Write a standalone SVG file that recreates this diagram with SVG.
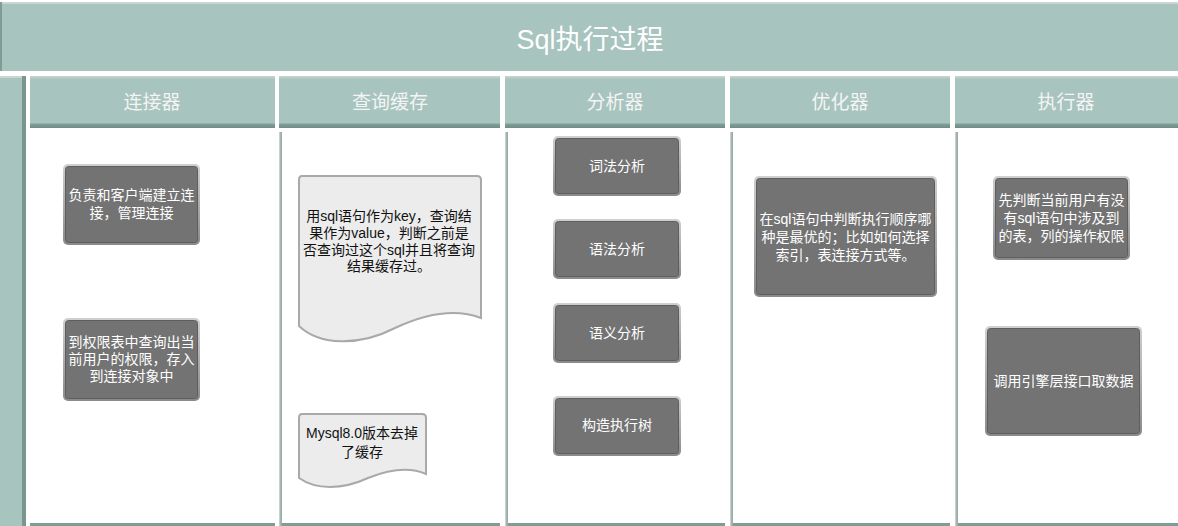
<svg xmlns="http://www.w3.org/2000/svg" width="1178" height="526" viewBox="0 0 1178 526">
<defs>
<linearGradient id="hdr" x1="0" y1="0" x2="0" y2="1">
<stop offset="0" stop-color="#c9d8d4"/>
<stop offset="0.06" stop-color="#a8c4be"/>
<stop offset="0.9" stop-color="#a8c4be"/>
<stop offset="0.93" stop-color="#7f9c95"/>
<stop offset="1" stop-color="#6f8d86"/>
</linearGradient>
<linearGradient id="sep" x1="0" y1="0" x2="1" y2="0">
<stop offset="0" stop-color="#d6dcda"/>
<stop offset="0.5" stop-color="#a9b7b3"/>
<stop offset="1" stop-color="#8ea8a2"/>
</linearGradient>
<linearGradient id="nodeBorder" x1="0" y1="0" x2="0" y2="1">
<stop offset="0" stop-color="#d0d0d0"/>
<stop offset="1" stop-color="#8a8a8a"/>
</linearGradient>
</defs>
<style>
.ttl{font-family:"Liberation Sans","Noto Sans CJK SC",sans-serif;font-size:27px;fill:#ffffff;text-anchor:middle}
.hd{font-family:"Liberation Sans","Noto Sans CJK SC",sans-serif;font-size:19px;fill:#f4f4f4;text-anchor:middle}
.nt{font-family:"Liberation Sans","Noto Sans CJK SC",sans-serif;font-size:14px;fill:#ffffff;text-anchor:middle}
.dt{font-family:"Liberation Sans","Noto Sans CJK SC",sans-serif;font-size:14px;fill:#111111;text-anchor:middle}
.nb{fill:url(#nodeBorder)}
.nf{fill:#737373;stroke:#5e5e5e;stroke-width:1}
.doc{fill:#ececec;stroke:#a9a9a9;stroke-width:2}
.hbar{fill:url(#hdr)}
.sepl{fill:url(#sep)}
.bot{fill:#7f9c95}
</style>
<rect width="1178" height="526" fill="#ffffff"/>
<g id="title">
<rect x="0" y="2" width="1178" height="69" fill="#a8c4be"/>
<rect x="0" y="2" width="1178" height="2" fill="#c9d6d3"/>
<rect x="0" y="2" width="2" height="69" fill="#7f9c95"/>
<text class="ttl" x="590" y="49">Sql执行过程</text>
</g>
<g id="leftbar">
<rect x="0" y="76" width="25" height="450" fill="#a8c4be"/>
<rect x="0" y="76" width="25" height="2" fill="#c9d6d3"/>
<rect x="22" y="76" width="4" height="450" fill="#7a978f"/>
</g>
<g id="lane-connector">
<rect class="hbar" x="30" y="76" width="245" height="52"/>
<text class="hd" x="152" y="109">连接器</text>
<rect class="bot" x="30" y="523" width="245" height="3"/>
</g>
<g id="lane-cache">
<rect class="hbar" x="279" y="76" width="221" height="52"/>
<text class="hd" x="390" y="109">查询缓存</text>
<rect class="sepl" x="279" y="132" width="3" height="394"/>
<rect class="bot" x="282" y="523" width="218" height="3"/>
</g>
<g id="lane-analyzer">
<rect class="hbar" x="505" y="76" width="220" height="52"/>
<text class="hd" x="615" y="109">分析器</text>
<rect class="sepl" x="505" y="132" width="3" height="394"/>
<rect class="bot" x="508" y="523" width="217" height="3"/>
</g>
<g id="lane-optimizer">
<rect class="hbar" x="730" y="76" width="220" height="52"/>
<text class="hd" x="840" y="109">优化器</text>
<rect class="sepl" x="730" y="132" width="3" height="394"/>
<rect class="bot" x="733" y="523" width="217" height="3"/>
</g>
<g id="lane-executor">
<rect class="hbar" x="955" y="76" width="223" height="52"/>
<text class="hd" x="1066" y="109">执行器</text>
<rect class="sepl" x="955" y="132" width="3" height="394"/>
<rect class="bot" x="958" y="523" width="220" height="3"/>
</g>
<g id="conn-1">
<rect class="nb" x="63" y="164" width="137" height="81" rx="5"/>
<rect class="nf" x="65.5" y="166.5" width="132" height="76" rx="3"/>
<text class="nt" x="131.5" y="200">负责和客户端建立连</text>
<text class="nt" x="131.5" y="218">接，管理连接</text>
</g>
<g id="conn-2">
<rect class="nb" x="63" y="318" width="137" height="83" rx="5"/>
<rect class="nf" x="65.5" y="320.5" width="132" height="78" rx="3"/>
<text class="nt" x="131.5" y="347">到权限表中查询出当</text>
<text class="nt" x="131.5" y="364">前用户的权限，存入</text>
<text class="nt" x="131.5" y="381">到连接对象中</text>
</g>
<g id="cache-1">
<path class="doc" d="M302,176 H477 Q481,176 481,180 V318 C455,308 425,314 395,328 C360,346 320,346 299,326 V180 Q299,176 302,176 Z"/>
<text class="dt" x="389" y="221">用sql语句作为key，查询结</text>
<text class="dt" x="389" y="238">果作为value，判断之前是</text>
<text class="dt" x="389" y="255">否查询过这个sql并且将查询</text>
<text class="dt" x="389" y="271">结果缓存过。</text>
</g>
<g id="cache-2">
<path class="doc" d="M302,414 H422 Q426,414 426,418 V474 C408,466 388,470 368,478 C342,490 316,490 299,478 V418 Q299,414 302,414 Z"/>
<text class="dt" x="362" y="438">Mysql8.0版本去掉</text>
<text class="dt" x="362" y="457">了缓存</text>
</g>
<g id="ana-1">
<rect class="nb" x="553" y="136" width="128" height="60" rx="5"/>
<rect class="nf" x="555.5" y="138.5" width="123" height="55" rx="3"/>
<text class="nt" x="617" y="171">词法分析</text>
</g>
<g id="ana-2">
<rect class="nb" x="553" y="219" width="128" height="60" rx="5"/>
<rect class="nf" x="555.5" y="221.5" width="123" height="55" rx="3"/>
<text class="nt" x="617" y="254">语法分析</text>
</g>
<g id="ana-3">
<rect class="nb" x="553" y="303" width="128" height="60" rx="5"/>
<rect class="nf" x="555.5" y="305.5" width="123" height="55" rx="3"/>
<text class="nt" x="617" y="338">语义分析</text>
</g>
<g id="ana-4">
<rect class="nb" x="553" y="396" width="128" height="60" rx="5"/>
<rect class="nf" x="555.5" y="398.5" width="123" height="55" rx="3"/>
<text class="nt" x="617" y="430">构造执行树</text>
</g>
<g id="opt-1">
<rect class="nb" x="754" y="176" width="183" height="121" rx="5"/>
<rect class="nf" x="756.5" y="178.5" width="178" height="116" rx="3"/>
<text class="nt" x="845.5" y="224">在sql语句中判断执行顺序哪</text>
<text class="nt" x="845.5" y="242">种是最优的；比如如何选择</text>
<text class="nt" x="845.5" y="260">索引，表连接方式等。</text>
</g>
<g id="exec-1">
<rect class="nb" x="993" y="176" width="137" height="84" rx="5"/>
<rect class="nf" x="995.5" y="178.5" width="132" height="79" rx="3"/>
<text class="nt" x="1061.5" y="205">先判断当前用户有没</text>
<text class="nt" x="1061.5" y="223">有sql语句中涉及到</text>
<text class="nt" x="1061.5" y="241">的表，列的操作权限</text>
</g>
<g id="exec-2">
<rect class="nb" x="985" y="326" width="157" height="110" rx="5"/>
<rect class="nf" x="987.5" y="328.5" width="152" height="105" rx="3"/>
<text class="nt" x="1063.5" y="386">调用引擎层接口取数据</text>
</g>
<g id="connectors"></g>
</svg>
